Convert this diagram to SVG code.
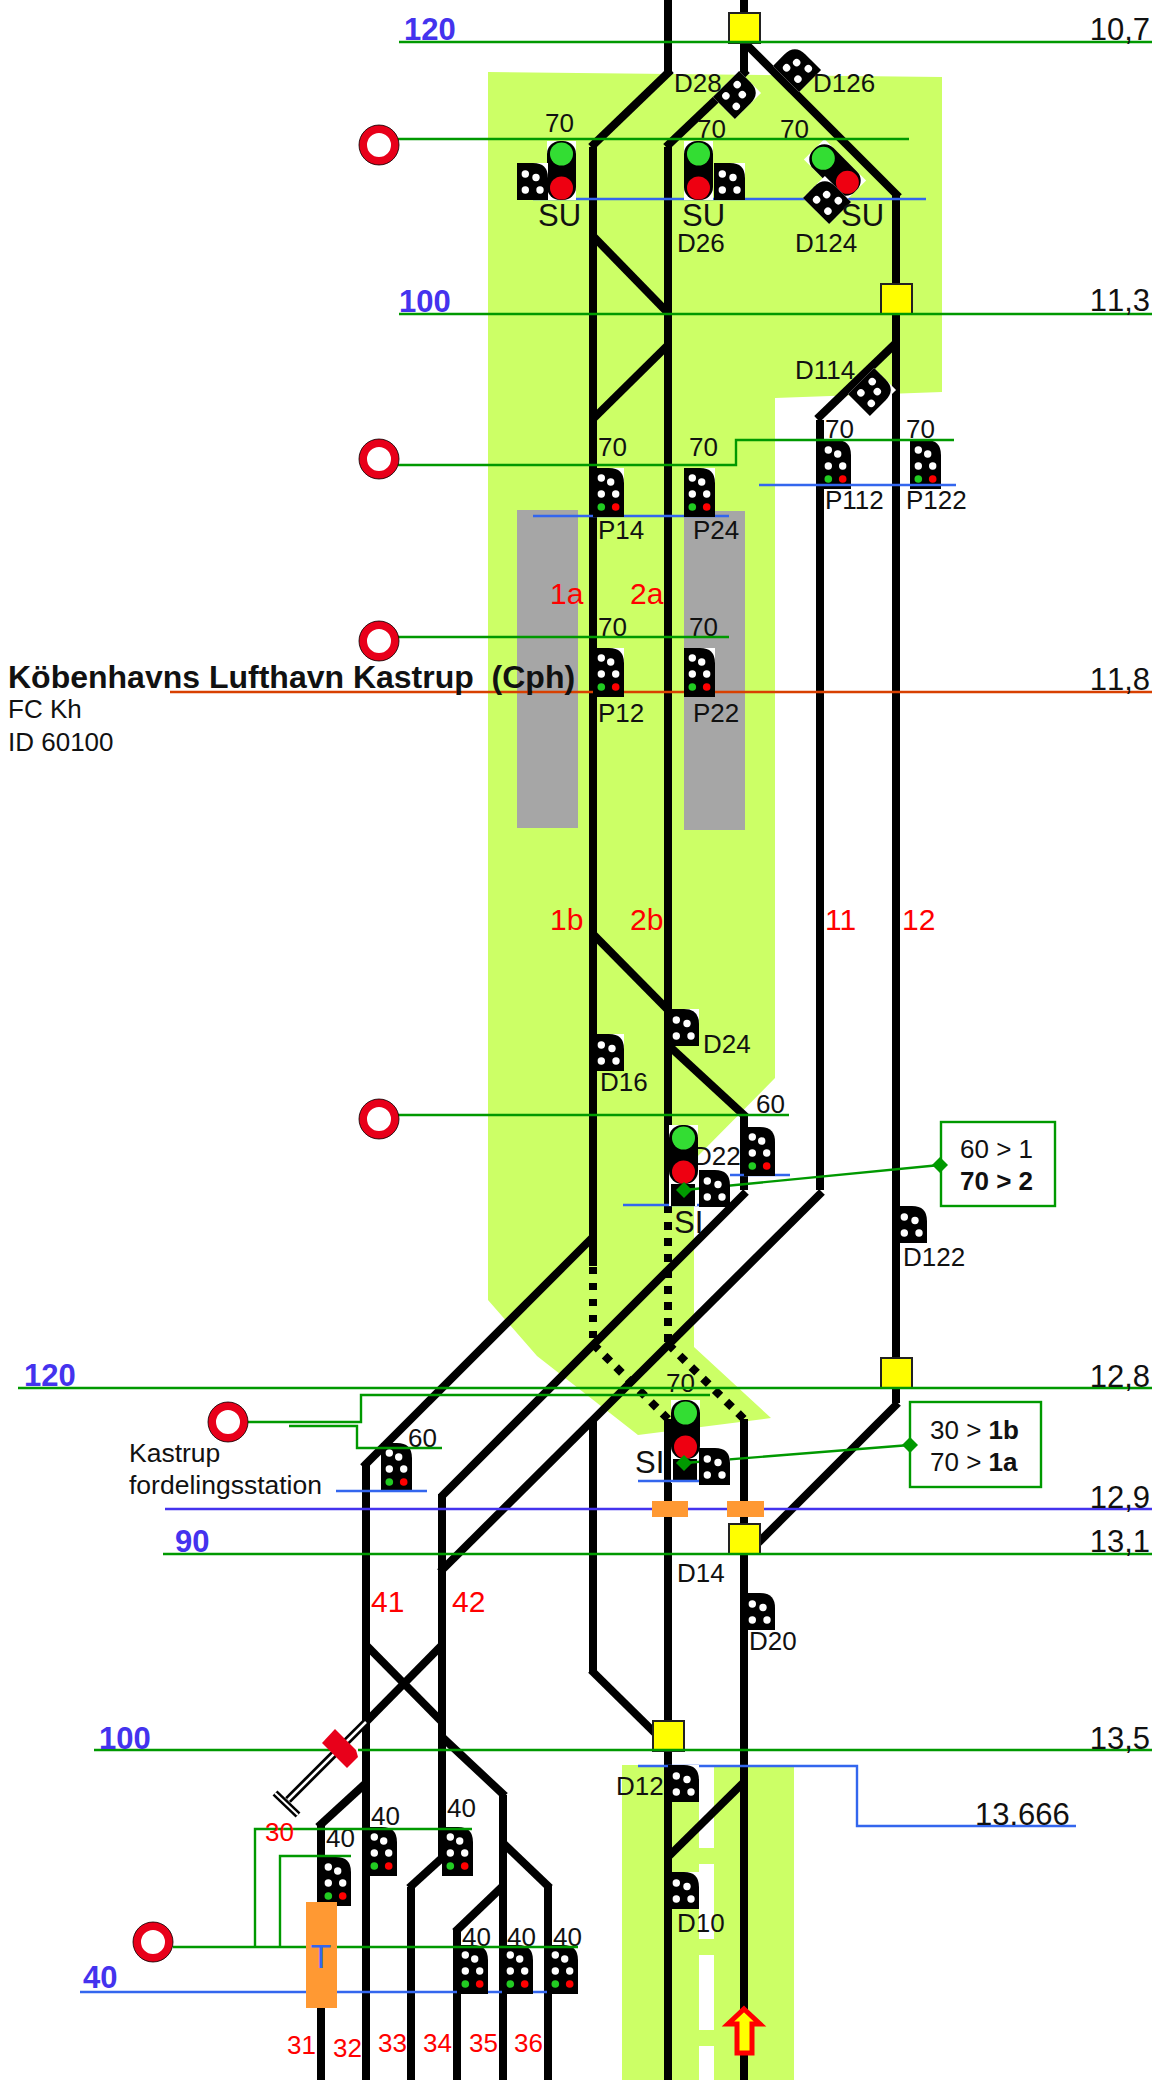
<svg xmlns="http://www.w3.org/2000/svg" xmlns:xlink="http://www.w3.org/1999/xlink" width="1152" height="2080" viewBox="0 0 1152 2080">
<style>
text{font-family:"Liberation Sans",Arial,sans-serif;fill:#111}
.lb{font-size:26px}
.su{font-size:31px}
.km{font-size:31px;text-anchor:end;font-kerning:none}
.sp{font-size:31px;font-weight:bold;fill:#4433ee}
.tr{font-size:30px;fill:#ff0000}
.trs{font-size:26px;fill:#ff0000}
.bold{font-weight:bold}
.t line,.t polyline{stroke:#000;stroke-width:8;fill:none}
.dot{stroke-dasharray:8 8}
.dot1{stroke-dasharray:7 9}
.dd{stroke-dasharray:8 8.4}
.g{stroke:#009900;stroke-width:2.4;fill:none}
.b{stroke:#3366ee;stroke-width:2.4;fill:none}
.y{fill:#ffff00;stroke:#222;stroke-width:2}
.ring{fill:#fff;stroke:#e8001a;stroke-width:8}
.box{fill:#fff;stroke:#009900;stroke-width:2.4}
</style>
<defs>
<marker id="dia" markerUnits="userSpaceOnUse" markerWidth="18" markerHeight="18" refX="9" refY="9" orient="0" overflow="visible"><polygon points="9,1 17,9 9,17 1,9" fill="#009900"/></marker>
<g id="sd"><rect width="31" height="37" fill="#fff"/><path d="M0,37V0H16Q31,0 31,15V37Z" fill="#000"/><g fill="#fff"><circle cx="8.3" cy="11" r="3.7"/><circle cx="19" cy="14.5" r="3.7"/><circle cx="8.3" cy="27" r="3.7"/><circle cx="23" cy="27" r="3.7"/></g></g>
<g id="sp"><rect width="31" height="49" fill="#fff"/><path d="M0,49V0H16Q31,0 31,15V49Z" fill="#000"/><g fill="#fff"><circle cx="8.3" cy="10" r="3.7"/><circle cx="17.7" cy="14" r="3.7"/><circle cx="8.3" cy="26" r="3.7"/><circle cx="22.7" cy="26" r="3.7"/></g><circle cx="8.3" cy="39" r="3.8" fill="#22cc22"/><circle cx="22.7" cy="39" r="3.8" fill="#ff0000"/></g>
<g id="big"><rect width="29" height="59" fill="#fff"/><rect width="29" height="59" rx="13" fill="#000"/><circle cx="14.5" cy="13" r="11.500" fill="#33dd33"/><circle cx="14.5" cy="47" r="11.500" fill="#ee0011"/></g>
<g id="ring"><circle r="16" class="ring"/><circle r="20" fill="none" stroke="#000" stroke-width="0.8"/></g>
</defs>

<g id="background">
<polygon points="488,72 942,77 942,392 775,398 775,1078 694,1160 694,1347 771,1418 638,1435 537,1356 488,1300" fill="#ccff66"/>
<rect x="517" y="510" width="61" height="318" fill="#a6a6a6"/>
<rect x="684" y="511" width="61" height="319" fill="#a6a6a6"/>
<rect x="622" y="1765" width="172" height="315" fill="#ccff66"/>
<g fill="#fff"><rect x="699" y="1765" width="15" height="83"/><rect x="699" y="1864" width="15" height="75"/><rect x="699" y="1955" width="15" height="75"/><rect x="699" y="2046" width="15" height="34"/></g>
</g>

<g id="connectors" class="t">
<line x1="668" y1="0" x2="668" y2="72"/><line x1="671" y1="70" x2="591" y2="147"/>
<line x1="593" y1="147" x2="593" y2="1266"/><line class="dot1" x1="593" y1="1267" x2="593" y2="1344"/>
<line x1="744" y1="0" x2="744" y2="72"/><line x1="747" y1="70" x2="666" y2="147"/>
<line x1="668" y1="147" x2="668" y2="1213"/><line class="dot" x1="668" y1="1222" x2="668" y2="1344"/>
<line x1="741" y1="39" x2="899" y2="197"/><line x1="896" y1="193" x2="896" y2="1403"/>
<line x1="593" y1="236" x2="668" y2="313"/><line x1="593" y1="419" x2="668" y2="345"/>
<line x1="896" y1="343" x2="817" y2="419"/><line x1="820" y1="420" x2="820" y2="1190"/>
<line x1="593" y1="934" x2="668" y2="1010"/><line x1="668" y1="1045" x2="746" y2="1117"/>
<line x1="744" y1="1115" x2="744" y2="1190"/>
<line x1="746" y1="1192" x2="441" y2="1497"/><line x1="822" y1="1192" x2="440" y2="1572"/>
<line x1="593" y1="1237" x2="363" y2="1467"/>
<line class="dd" x1="593" y1="1344" x2="668" y2="1419"/><line class="dd" x1="668" y1="1344" x2="744" y2="1419"/>
<line x1="593" y1="1419" x2="593" y2="1672"/><line x1="591" y1="1670" x2="660" y2="1738"/>
<line x1="668" y1="1419" x2="668" y2="2080"/><line x1="744" y1="1419" x2="744" y2="2080"/>
<line x1="898" y1="1403" x2="752" y2="1549"/>
<line x1="744" y1="1782" x2="668" y2="1857"/>
<line x1="366" y1="1465" x2="366" y2="2080"/><line x1="442" y1="1494" x2="442" y2="1860"/>
<line x1="366" y1="1645" x2="442" y2="1722"/><line x1="442" y1="1645" x2="366" y2="1722"/>
<line x1="442" y1="1737" x2="505" y2="1796"/><line x1="503" y1="1795" x2="503" y2="2080"/>
<line x1="503" y1="1843" x2="550" y2="1888"/><line x1="548" y1="1886" x2="548" y2="2080"/>
<line x1="503" y1="1886" x2="455" y2="1932"/><line x1="457" y1="1930" x2="457" y2="2080"/>
<line x1="442" y1="1858" x2="409" y2="1888"/><line x1="411" y1="1887" x2="411" y2="2080"/>
<line x1="366" y1="1783" x2="318" y2="1827"/><line x1="321" y1="1826" x2="321" y2="2080"/>
<line x1="366" y1="1722" x2="288" y2="1800" stroke-width="8"/>
<line x1="366" y1="1722" x2="288" y2="1800" style="stroke:#fff;stroke-width:2.5"/>
<line x1="275" y1="1793" x2="298" y2="1815" style="stroke-width:7"/>
<line x1="275" y1="1793" x2="298" y2="1815" style="stroke:#fff;stroke-width:2"/>
<polygon points="744,2009 760,2024 752,2024 752,2053 737,2053 737,2024 728,2024" fill="#ffff00" stroke="#ff0000" stroke-width="5"/>
</g>

<g id="lines-under">
<polyline class="b" points="533,199 926,199"/>
<polyline class="b" points="533,516 729,516"/>
<polyline points="170,692 1152,692" fill="none" stroke="#d84000" stroke-width="2.4"/>
<polyline class="b" points="729,1175 790,1175"/>
<polyline class="b" points="623,1205 700,1205"/>
<polyline class="b" points="638,1766 857,1766 857,1826 1076,1826"/>
<polyline class="b" points="80,1992 578,1992"/>
</g>

<g id="stations">
<rect class="y" x="729" y="13" width="31" height="30"/>
<rect class="y" x="881" y="284" width="31" height="30"/>
<rect class="y" x="881" y="1358" width="31" height="30"/>
<rect class="y" x="729" y="1524" width="31" height="30"/>
<rect class="y" x="653" y="1721" width="31" height="30"/>
</g>

<g id="n-su1"><use xlink:href="#big" x="547" y="141"/><use xlink:href="#sd" x="517" y="163"/><text class="lb" x="545" y="132">70</text><text class="su" x="538" y="226">SU</text></g>
<g id="n-su2"><use xlink:href="#big" x="684" y="141"/><use xlink:href="#sd" x="714" y="163"/><text class="lb" x="697" y="138">70</text><text class="su" x="682" y="226">SU</text><text class="lb" x="677" y="252">D26</text></g>
<g id="n-su3"><use xlink:href="#big" transform="rotate(-45 835 170) translate(820.500 140.500)"/><use xlink:href="#sd" transform="rotate(-45 827 200) translate(811.500 181.500)"/><text class="lb" x="780" y="138">70</text><text class="su" x="841" y="226">SU</text><text class="lb" x="795" y="252">D124</text></g>
<g id="n-d28"><use xlink:href="#sd" transform="rotate(45 737 95) translate(721.500 76.500)"/><text class="lb" x="674" y="92">D28</text></g>
<g id="n-d126"><use xlink:href="#sd" transform="rotate(-45 797 68) translate(781.500 49.500)"/><text class="lb" x="813" y="92">D126</text></g>
<g id="n-d114"><use xlink:href="#sd" transform="rotate(45 872 392) translate(856.500 373.500)"/><text class="lb" x="795" y="379">D114</text></g>
<g id="n-p14"><use xlink:href="#sp" x="593" y="468"/><text class="lb" x="598" y="456">70</text><text class="lb" x="598" y="539">P14</text></g>
<g id="n-p24"><use xlink:href="#sp" x="684" y="468"/><text class="lb" x="689" y="456">70</text><text class="lb" x="693" y="539">P24</text></g>
<g id="n-p12"><use xlink:href="#sp" x="593" y="648"/><text class="lb" x="598" y="636">70</text><text class="lb" x="598" y="722">P12</text></g>
<g id="n-p22"><use xlink:href="#sp" x="684" y="648"/><text class="lb" x="689" y="636">70</text><text class="lb" x="693" y="722">P22</text></g>
<g id="n-p112"><use xlink:href="#sp" x="820" y="440"/><text class="lb" x="825" y="438">70</text><text class="lb" x="825" y="509">P112</text></g>
<g id="n-p122"><use xlink:href="#sp" x="910" y="440"/><text class="lb" x="906" y="438">70</text><text class="lb" x="906" y="509">P122</text></g>
<g id="n-d16"><use xlink:href="#sd" x="593" y="1034"/><text class="lb" x="600" y="1091">D16</text></g>
<g id="n-d24"><use xlink:href="#sd" x="668" y="1009"/><text class="lb" x="703" y="1053">D24</text></g>
<g id="n-d60"><use xlink:href="#sp" x="744" y="1127"/><text class="lb" x="756" y="1113">60</text></g>
<g id="n-si1"><text class="lb" x="693" y="1165">D22</text><rect x="669" y="1176" width="28" height="30" fill="#fff"/><rect x="671" y="1178" width="24" height="28" fill="#000"/><use xlink:href="#big" x="669" y="1125"/><text class="su" x="674" y="1233">SI</text></g>
<g id="n-d122"><use xlink:href="#sd" x="896" y="1206"/><text class="lb" x="903" y="1266">D122</text></g>
<g id="n-si2"><text class="lb" x="666" y="1392">70</text><rect x="671" y="1453" width="28" height="30" fill="#fff"/><rect x="673" y="1455" width="24" height="26" fill="#000"/><use xlink:href="#big" x="671" y="1400"/><text class="su" x="635" y="1473">SI</text></g>
<g id="n-d20"><use xlink:href="#sd" x="744" y="1593"/><text class="lb" x="749" y="1650">D20</text></g>
<g id="n-d14"><text class="lb" x="677" y="1582">D14</text></g>
<g id="n-60b"><use xlink:href="#sp" x="381" y="1443"/><text class="lb" x="408" y="1447">60</text></g>
<g id="n-d12"><use xlink:href="#sd" x="668" y="1765"/><text class="lb" x="616" y="1795">D12</text></g>
<g id="n-d10"><use xlink:href="#sd" x="668" y="1872"/><text class="lb" x="677" y="1932">D10</text></g>
<g id="n-31s"><use xlink:href="#sp" x="320" y="1857"/><text class="lb" x="326" y="1847">40</text></g>
<g id="n-32s"><use xlink:href="#sp" x="366" y="1827"/><text class="lb" x="371" y="1825">40</text></g>
<g id="n-33s"><use xlink:href="#sp" x="442" y="1827"/><text class="lb" x="447" y="1817">40</text></g>
<g id="n-34s"><use xlink:href="#sp" x="457" y="1945"/><text class="lb" x="462" y="1946">40</text></g>
<g id="n-35s"><use xlink:href="#sp" x="502" y="1945"/><text class="lb" x="507" y="1946">40</text></g>
<g id="n-36s"><use xlink:href="#sp" x="547" y="1945"/><text class="lb" x="553" y="1946">40</text></g>

<g id="lines-over">
<polyline class="g" points="399,42 1152,42"/>
<polyline class="g" points="398,139 909,139"/>
<polyline class="g" points="399,314 1152,314"/>
<polyline class="g" points="398,465 736,465 736,440 954,440"/>
<polyline class="b" points="759,485 956,485"/>
<polyline class="g" points="398,637 729,637"/>
<polyline class="g" points="398,1115 789,1115"/>
<polyline class="g" points="18,1388 1152,1388"/>
<polyline class="g" points="248,1422 361,1422 361,1395 710,1395"/>
<polyline class="g" points="289,1426 357,1426 357,1448 442,1448"/>
<polyline class="b" points="336,1491 427,1491"/>
<polyline class="b" points="638,1481 699,1481"/>
<polyline points="165,1509 1152,1509" fill="none" stroke="#4433ee" stroke-width="2.4"/>
<polyline class="g" points="163,1554 1152,1554"/>
<polyline class="g" points="94,1750 330,1750"/>
<polyline class="g" points="358,1750 1152,1750"/>
<polyline class="g" points="173,1947 578,1947"/>
<polyline class="g" points="255,1947 255,1829 472,1829"/>
<polyline class="g" points="280,1947 280,1856 351,1856"/>
</g>

<g id="callout-a"><rect class="box" x="941" y="1122" width="114" height="84"/><line class="g" x1="940" y1="1165" x2="684" y2="1190" marker-start="url(#dia)" marker-end="url(#dia)"/><use xlink:href="#sd" x="699" y="1170"/><text class="lb" x="960" y="1158">60 &gt; 1</text><text class="lb bold" x="960" y="1190">70 &gt; 2</text></g>
<g id="callout-b"><rect class="box" x="910" y="1402" width="131" height="85"/><line class="g" x1="910" y1="1445" x2="684" y2="1463" marker-start="url(#dia)" marker-end="url(#dia)"/><use xlink:href="#sd" x="699" y="1448"/><text class="lb" x="930" y="1439">30 &gt; <tspan class="bold">1b</tspan></text><text class="lb" x="930" y="1471">70 &gt; <tspan class="bold">1a</tspan></text></g>

<g id="orange"><rect x="652" y="1501" width="36" height="16" fill="#ff9933"/><rect x="727" y="1501" width="37" height="16" fill="#ff9933"/><rect x="306" y="1902" width="31" height="106" fill="#ff9933"/><text x="321" y="1968" text-anchor="middle" style="font-size:34px;fill:#3366ee">T</text></g>
<g id="mast"><polygon points="335,1729 356,1750 358,1757 347,1768 322,1743" fill="#e8001a"/></g>

<g id="rings">
<use xlink:href="#ring" x="379" y="145"/><use xlink:href="#ring" x="379" y="459"/><use xlink:href="#ring" x="379" y="641"/><use xlink:href="#ring" x="379" y="1119"/><use xlink:href="#ring" x="228" y="1422"/><use xlink:href="#ring" x="153" y="1942"/>
</g>

<g id="labels">
<text class="sp" x="404" y="40">120</text><text class="sp" x="399" y="312">100</text><text class="sp" x="24" y="1386">120</text><text class="sp" x="175" y="1552">90</text><text class="sp" x="99" y="1749">100</text><text class="sp" x="83" y="1988">40</text>
<text class="km" x="1150" y="40">10,7</text><text class="km" x="1150" y="311">11,3</text><text class="km" x="1150" y="690">11,8</text><text class="km" x="1150" y="1387">12,8</text><text class="km" x="1150" y="1508">12,9</text><text class="km" x="1150" y="1552">13,1</text><text class="km" x="1150" y="1749">13,5</text>
<text x="975" y="1825" style="font-size:31px">13.666</text>
<text x="8" y="688" class="bold" style="font-size:32px;white-space:pre" xml:space="preserve">Köbenhavns Lufthavn Kastrup  (Cph)</text>
<text x="8" y="718" style="font-size:26px">FC Kh</text><text x="8" y="751" style="font-size:26px">ID 60100</text>
<text x="129" y="1462" style="font-size:26.500px">Kastrup</text><text x="129" y="1494" style="font-size:26.500px">fordelingsstation</text>
<text class="tr" x="550" y="604">1a</text><text class="tr" x="630" y="604">2a</text><text class="tr" x="550" y="930">1b</text><text class="tr" x="630" y="930">2b</text><text class="tr" x="825" y="930">11</text><text class="tr" x="902" y="930">12</text><text class="tr" x="371" y="1612">41</text><text class="tr" x="452" y="1612">42</text>
<text class="trs" x="265" y="1841">30</text><text class="trs" x="287" y="2054">31</text><text class="trs" x="333" y="2057">32</text><text class="trs" x="378" y="2052">33</text><text class="trs" x="423" y="2052">34</text><text class="trs" x="469" y="2052">35</text><text class="trs" x="514" y="2052">36</text>
</g>
</svg>
